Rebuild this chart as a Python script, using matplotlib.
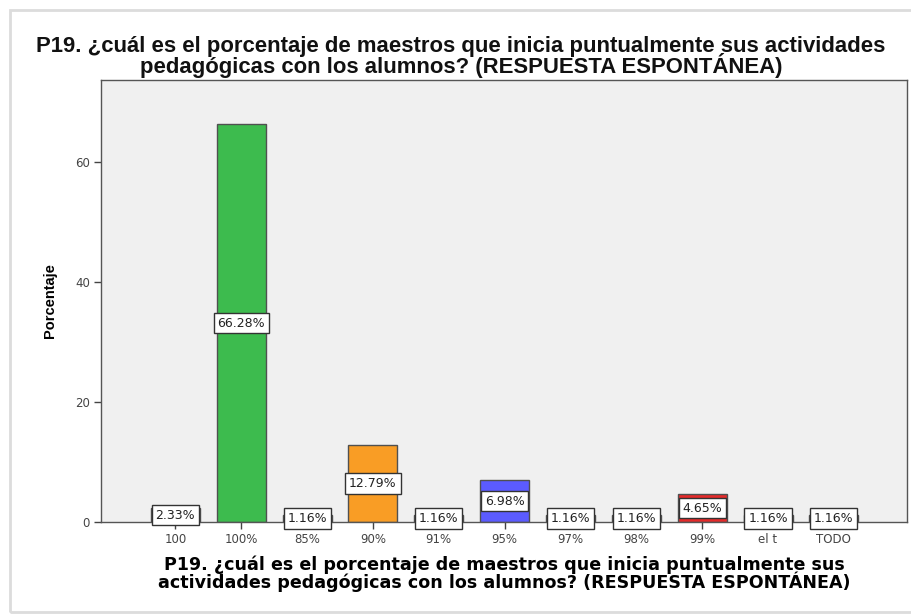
import matplotlib
matplotlib.use("Agg")
import matplotlib.pyplot as plt
from matplotlib.patches import Rectangle

categories = ["100", "100%", "85%", "90%", "91%", "95%", "97%", "98%", "99%", "el t", "TODO"]
values = [2.33, 66.28, 1.16, 12.79, 1.16, 6.98, 1.16, 1.16, 4.65, 1.16, 1.16]
labels = ["2.33%", "66.28%", "1.16%", "12.79%", "1.16%", "6.98%", "1.16%", "1.16%", "4.65%", "1.16%", "1.16%"]
colors = ["#8fa0c8", "#3dbb4e", "#c8c8c8", "#f99d25", "#a0c8e0", "#5b5bff",
          "#e0e0a0", "#c8a0c8", "#e52a2a", "#a0e0c8", "#e0c8a0"]

title = "P19. ¿cuál es el porcentaje de maestros que inicia puntualmente sus actividades\npedagógicas con los alumnos? (RESPUESTA ESPONTÁNEA)"
xlabel = "P19. ¿cuál es el porcentaje de maestros que inicia puntualmente sus\nactividades pedagógicas con los alumnos? (RESPUESTA ESPONTÁNEA)"
ylabel = "Porcentaje"
yticks = [0, 20, 40, 60]

fig = plt.figure(figsize=(9.12, 6.14), dpi=100)
fig.patch.set_facecolor("white")
# screenshot frame
fig.add_artist(Rectangle((10/912, 2/614), 1.2, 602/614, transform=fig.transFigure,
                         fill=False, edgecolor="#dcdcdc", linewidth=2.0))

ax = fig.add_axes([101/912, 1 - 522/614, (907-101)/912, (522-80)/614])
ax.set_facecolor("#f0f0f0")
x = list(range(len(categories)))
ax.bar(x, values, width=0.745, color=colors, edgecolor="#505050", linewidth=1.0, zorder=2)
for xi, v, lab in zip(x, values, labels):
    ax.text(xi, v / 2, lab, ha="center", va="center", fontsize=9, color="#222222",
            family="DejaVu Sans", zorder=3,
            bbox=dict(boxstyle="square,pad=0.3", facecolor="white", edgecolor="#333333", linewidth=1.0))

ax.set_xlim(-1.13, 11.11)
ax.set_ylim(0, 73.7)
ax.set_xticks(x)
ax.set_xticklabels(categories, fontsize=8.5, color="#444444", family="DejaVu Sans")
ax.set_yticks(yticks)
ax.set_yticklabels([str(t) for t in yticks], fontsize=8.5, color="#444444", family="DejaVu Sans")
ax.tick_params(axis="both", direction="out", length=5, width=1, color="#444444", pad=3)
for s in ax.spines.values():
    s.set_color("#555555")
    s.set_linewidth(1.0)

ax.set_ylabel(ylabel, fontsize=10.5, fontweight="bold", family="Liberation Sans", labelpad=13)
ax.set_xlabel(xlabel, fontsize=12.6, fontweight="bold", family="DejaVu Sans", labelpad=7,
              linespacing=0.82)
fig.text(0.5055, 1 - 57/614, title, ha="center", va="center", fontsize=15.9,
         family="Liberation Sans", fontweight="bold", linespacing=0.84, color="#111111")

fig.savefig("out.png", dpi=100, facecolor="white")
